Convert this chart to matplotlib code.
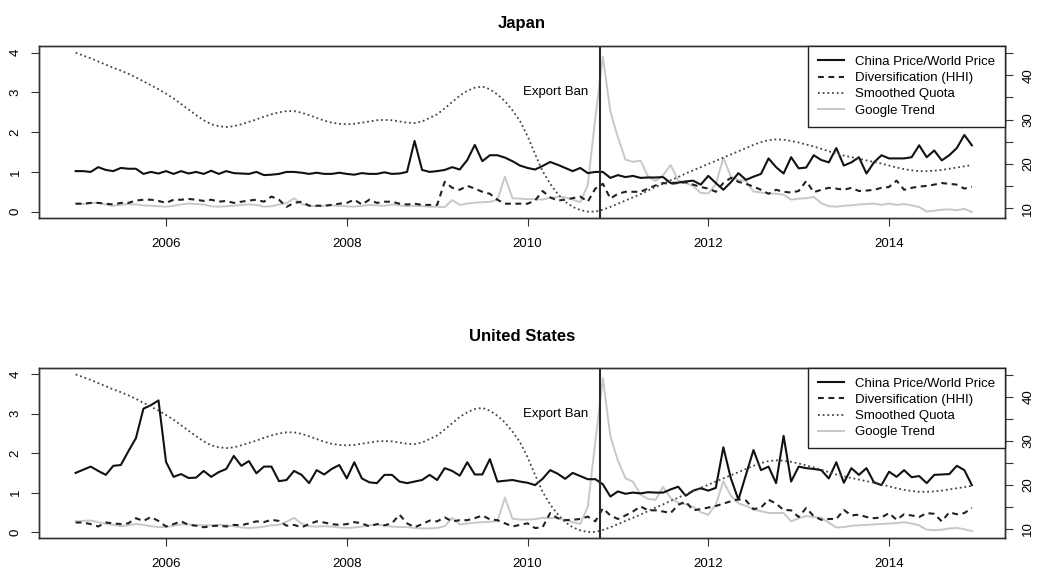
import numpy as np
import matplotlib
matplotlib.use('Agg')
import matplotlib.pyplot as plt

plt.rcParams['font.family'] = ['Liberation Sans', 'DejaVu Sans']

# monthly observations, Jan 2005 - Dec 2014
months = 2005 + np.arange(120) / 12
export_ban = 2010.8

# smoothed export quota (same series in both panels)
quota = [4.00, 3.93, 3.86, 3.78, 3.70, 3.62, 3.55, 3.47, 3.38, 3.28, 3.18, 3.08,
         2.97, 2.85, 2.71, 2.57, 2.43, 2.30, 2.20, 2.15, 2.13, 2.15, 2.20, 2.26,
         2.32, 2.39, 2.45, 2.50, 2.53, 2.53, 2.49, 2.43, 2.36, 2.29, 2.24, 2.21,
         2.20, 2.21, 2.24, 2.27, 2.30, 2.31, 2.30, 2.27, 2.24, 2.23, 2.27, 2.36,
         2.45, 2.60, 2.76, 2.92, 3.04, 3.12, 3.15, 3.08, 2.95, 2.78, 2.55, 2.28,
         1.90, 1.45, 1.02, 0.70, 0.45, 0.25, 0.12, 0.04, 0.00, 0.00, 0.05, 0.12,
         0.20, 0.28, 0.36, 0.44, 0.53, 0.62, 0.70, 0.79, 0.87, 0.96, 1.04, 1.12,
         1.20, 1.28, 1.36, 1.44, 1.52, 1.60, 1.68, 1.75, 1.80, 1.82, 1.81, 1.78,
         1.74, 1.69, 1.64, 1.58, 1.52, 1.46, 1.41, 1.37, 1.33, 1.29, 1.25, 1.21,
         1.16, 1.11, 1.07, 1.04, 1.02, 1.02, 1.03, 1.05, 1.08, 1.11, 1.14, 1.17]

# Japan
jp_price = [1.02, 1.02, 1.00, 1.12, 1.05, 1.02, 1.10, 1.08, 1.08, 0.95, 1.00, 0.96,
            1.02, 0.95, 1.02, 0.96, 1.00, 0.95, 1.03, 0.95, 1.02, 0.97, 0.96, 0.95,
            1.00, 0.92, 0.93, 0.95, 1.00, 1.00, 0.98, 0.95, 0.98, 0.95, 0.95, 0.98,
            0.95, 0.93, 0.97, 0.95, 0.95, 0.99, 0.95, 0.96, 1.00, 1.78, 1.05, 1.00,
            1.02, 1.05, 1.12, 1.06, 1.30, 1.68, 1.27, 1.42, 1.42, 1.36, 1.27, 1.16,
            1.10, 1.06, 1.15, 1.25, 1.18, 1.10, 1.02, 1.10, 0.97, 1.00, 1.00, 0.85,
            0.92, 0.87, 0.90, 0.85, 0.86, 0.86, 0.87, 0.72, 0.73, 0.76, 0.78, 0.68,
            0.90, 0.72, 0.55, 0.74, 0.97, 0.80, 0.88, 0.95, 1.34, 1.12, 0.96, 1.37,
            1.09, 1.11, 1.42, 1.30, 1.24, 1.60, 1.16, 1.24, 1.37, 0.96, 1.24, 1.42,
            1.34, 1.34, 1.34, 1.37, 1.67, 1.37, 1.54, 1.29, 1.42, 1.60, 1.93, 1.67]

jp_hhi = [0.20, 0.20, 0.22, 0.22, 0.20, 0.18, 0.22, 0.22, 0.28, 0.30, 0.30, 0.27,
          0.22, 0.30, 0.30, 0.32, 0.30, 0.27, 0.30, 0.25, 0.27, 0.22, 0.25, 0.28,
          0.30, 0.25, 0.38, 0.30, 0.12, 0.22, 0.25, 0.15, 0.15, 0.15, 0.17, 0.20,
          0.22, 0.30, 0.18, 0.30, 0.22, 0.25, 0.25, 0.20, 0.18, 0.20, 0.17, 0.17,
          0.17, 0.75, 0.60, 0.55, 0.65, 0.58, 0.50, 0.45, 0.30, 0.20, 0.20, 0.20,
          0.20, 0.28, 0.52, 0.36, 0.28, 0.30, 0.34, 0.38, 0.25, 0.58, 0.70, 0.33,
          0.45, 0.50, 0.50, 0.50, 0.58, 0.66, 0.72, 0.70, 0.72, 0.74, 0.68, 0.62,
          0.58, 0.50, 0.72, 0.85, 0.75, 0.70, 0.63, 0.55, 0.45, 0.55, 0.50, 0.48,
          0.52, 0.77, 0.49, 0.55, 0.60, 0.58, 0.55, 0.60, 0.52, 0.53, 0.55, 0.60,
          0.62, 0.78, 0.55, 0.60, 0.63, 0.65, 0.68, 0.72, 0.70, 0.68, 0.58, 0.63]

jp_google = [11.1, 11.0, 11.2, 11.3, 10.9, 10.6, 10.8, 11.0, 10.9, 10.7, 10.6, 10.5,
             10.4, 10.6, 10.9, 11.1, 11.0, 10.9, 10.5, 10.4, 10.5, 10.6, 10.8, 10.9,
             10.8, 10.4, 10.5, 10.9, 11.2, 12.3, 11.0, 10.6, 10.5, 10.6, 10.7, 10.6,
             10.5, 10.4, 10.6, 10.8, 10.7, 10.6, 10.9, 10.7, 10.5, 10.6, 10.5, 10.4,
             10.4, 10.3, 11.9, 10.8, 11.1, 11.3, 11.4, 11.5, 11.9, 17.2, 12.3, 12.2,
             12.1, 12.1, 12.0, 12.4, 12.6, 12.5, 12.0, 11.4, 15.3, 30.4, 44.2, 31.8,
             26.0, 21.0, 20.5, 20.8, 17.2, 16.2, 17.5, 19.8, 16.3, 15.8, 15.0, 13.5,
             13.4, 15.5, 21.4, 17.2, 16.4, 16.2, 13.8, 13.6, 13.4, 13.3, 13.1, 12.0,
             12.2, 12.3, 12.6, 11.2, 10.5, 10.4, 10.6, 10.7, 10.9, 11.0, 11.1, 10.8,
             11.1, 10.8, 11.0, 10.7, 10.3, 9.3, 9.5, 9.7, 9.8, 9.6, 9.9, 9.2]

# United States
us_price = [1.50, 1.58, 1.66, 1.55, 1.45, 1.68, 1.70, 2.05, 2.38, 3.13, 3.22, 3.34,
            1.78, 1.40, 1.47, 1.37, 1.38, 1.55, 1.40, 1.52, 1.60, 1.93, 1.68, 1.80,
            1.49, 1.66, 1.66, 1.29, 1.32, 1.55, 1.45, 1.24, 1.57, 1.46, 1.60, 1.70,
            1.36, 1.77, 1.36, 1.26, 1.24, 1.45, 1.45, 1.28, 1.24, 1.28, 1.32, 1.45,
            1.32, 1.62, 1.55, 1.43, 1.77, 1.46, 1.46, 1.85, 1.28, 1.30, 1.32, 1.28,
            1.25, 1.19, 1.35, 1.57, 1.48, 1.35, 1.50, 1.42, 1.34, 1.34, 1.21, 0.90,
            1.03, 0.97, 1.00, 0.98, 1.01, 1.00, 1.00, 1.08, 1.15, 0.92, 1.05, 1.11,
            1.05, 1.12, 2.15, 1.36, 0.82, 1.45, 2.08, 1.57, 1.66, 1.24, 2.44, 1.28,
            1.66, 1.62, 1.60, 1.57, 1.36, 1.77, 1.25, 1.62, 1.45, 1.62, 1.26, 1.19,
            1.53, 1.40, 1.57, 1.39, 1.42, 1.24, 1.45, 1.46, 1.47, 1.68, 1.57, 1.19]

us_hhi = [0.24, 0.24, 0.20, 0.14, 0.24, 0.22, 0.20, 0.22, 0.35, 0.28, 0.38, 0.28,
          0.14, 0.20, 0.27, 0.18, 0.16, 0.12, 0.15, 0.16, 0.14, 0.18, 0.17, 0.22,
          0.27, 0.25, 0.31, 0.28, 0.16, 0.18, 0.12, 0.20, 0.27, 0.24, 0.20, 0.18,
          0.20, 0.25, 0.22, 0.14, 0.20, 0.17, 0.22, 0.44, 0.22, 0.12, 0.20, 0.29,
          0.27, 0.37, 0.27, 0.30, 0.30, 0.35, 0.42, 0.32, 0.30, 0.22, 0.14, 0.18,
          0.22, 0.10, 0.12, 0.48, 0.35, 0.30, 0.31, 0.33, 0.39, 0.27, 0.60, 0.42,
          0.33, 0.42, 0.52, 0.65, 0.55, 0.55, 0.52, 0.48, 0.69, 0.77, 0.55, 0.58,
          0.62, 0.66, 0.72, 0.78, 0.83, 0.80, 0.58, 0.62, 0.82, 0.72, 0.56, 0.55,
          0.38, 0.61, 0.40, 0.31, 0.33, 0.33, 0.56, 0.42, 0.44, 0.38, 0.35, 0.37,
          0.48, 0.31, 0.45, 0.42, 0.38, 0.48, 0.46, 0.27, 0.50, 0.45, 0.48, 0.61]

us_google = [11.7, 11.8, 11.9, 11.5, 11.1, 10.9, 10.6, 10.8, 11.1, 10.9, 10.6, 10.4,
             10.4, 10.7, 11.0, 11.0, 10.8, 10.8, 10.8, 10.9, 10.8, 10.6, 10.3, 10.2,
             10.3, 10.5, 10.8, 10.9, 11.6, 12.5, 11.2, 10.6, 10.5, 10.6, 10.5, 10.3,
             10.2, 10.3, 10.5, 10.8, 11.0, 10.7, 10.5, 10.4, 10.4, 10.2, 10.1, 10.1,
             10.2, 10.6, 12.5, 11.0, 11.2, 11.4, 11.5, 11.6, 11.7, 17.1, 12.3, 12.1,
             12.1, 12.2, 12.5, 12.4, 12.5, 12.0, 11.5, 11.1, 15.0, 29.8, 44.2, 31.0,
             25.5, 21.5, 20.7, 17.8, 16.8, 16.6, 19.5, 17.0, 15.9, 15.6, 15.0, 13.8,
             13.2, 15.5, 20.8, 17.5, 15.8, 15.2, 14.4, 14.0, 13.6, 13.6, 13.6, 11.7,
             12.4, 12.9, 12.7, 12.5, 11.4, 10.3, 10.4, 10.7, 10.8, 10.9, 11.0, 11.1,
             11.2, 11.3, 11.5, 11.2, 10.8, 9.8, 9.7, 9.8, 10.1, 10.2, 9.9, 9.5]

FS = 9.5


def draw_panel(ax, title, price, hhi, google, title_pad):
    ax2 = ax.twinx()
    ax.set_zorder(ax2.get_zorder() + 1)
    ax.patch.set_visible(False)

    g, = ax2.plot(months, google, color='#c8c8c8', lw=1.4)
    p, = ax.plot(months, price, color='#111111', lw=1.5)
    h, = ax.plot(months, hhi, color='#222222', lw=1.5, dashes=(2.8, 2.2))
    q, = ax.plot(months, quota, color='#444444', lw=1.3, dashes=(1, 1.6))

    ax.axvline(export_ban, color='#2a2a2a', lw=1.5)
    ax.text(export_ban - 0.13, 3.0, 'Export Ban', ha='right', va='center', fontsize=FS)

    ax.set_xlim(2004.595, 2015.283)
    ax.set_ylim(-0.16, 4.17)
    ax2.set_ylim(7.85, 46.6)

    ax.set_xticks([2006, 2008, 2010, 2012, 2014])
    ax.set_yticks([0, 1, 2, 3, 4])
    ax.set_yticklabels(['0', '1', '2', '3', '4'], rotation=90, va='center')
    rt = list(range(10, 50, 5))
    ax2.set_yticks(rt)
    ax2.set_yticklabels([str(t) if t % 10 == 0 else '' for t in rt], rotation=90, va='center')

    for a in (ax, ax2):
        a.tick_params(direction='out', length=5.5, width=0.8, color='#333333',
                      labelsize=FS, pad=7)
        for s in a.spines.values():
            s.set_linewidth(1.0)
            s.set_color('#333333')
    ax.tick_params(axis='x', pad=9)

    ax.set_title(title, fontsize=12, fontweight='bold', pad=title_pad)

    leg = ax.legend([p, h, q, g],
                    ['China Price/World Price', 'Diversification (HHI)',
                     'Smoothed Quota', 'Google Trend'],
                    loc='upper right', bbox_to_anchor=(1, 1), borderaxespad=0,
                    fontsize=FS, frameon=True, fancybox=False, framealpha=1,
                    edgecolor='#222222', handlelength=2.0, handletextpad=0.8,
                    labelspacing=0.3, borderpad=0.75)
    leg.get_frame().set_linewidth(1.0)


fig = plt.figure(figsize=(10.58, 5.74), dpi=100)
ax_jp = fig.add_axes([0.0369, 0.6202, 0.913, 0.2997])
ax_us = fig.add_axes([0.0369, 0.0622, 0.913, 0.2972])

draw_panel(ax_jp, 'Japan', jp_price, jp_hhi, jp_google, 13)
draw_panel(ax_us, 'United States', us_price, us_hhi, us_google, 19)

fig.savefig('out.png', dpi=100)
